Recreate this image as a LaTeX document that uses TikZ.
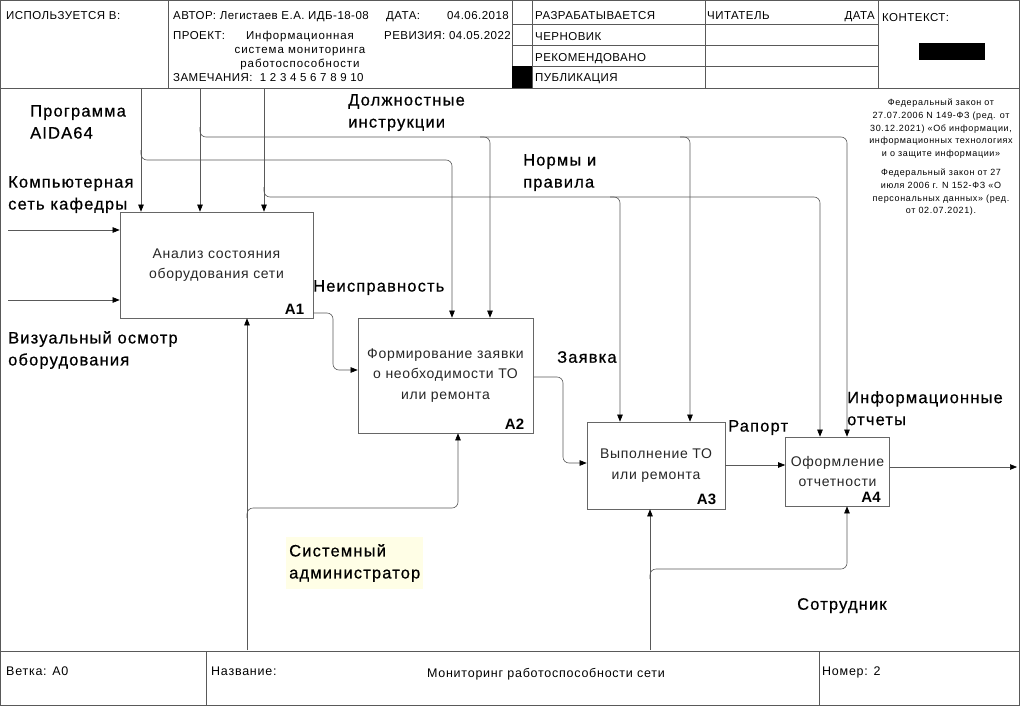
\documentclass[tikz,border=0pt]{standalone}
\usepackage{fontspec}
\setmainfont{Liberation Sans}
\newfontfamily\boxfont[LetterSpace=5]{Liberation Sans}
\newfontfamily\lblfont[LetterSpace=7,FakeBold=0.6]{Liberation Sans}
\newfontfamily\notefont[LetterSpace=7]{Liberation Sans}
\newfontfamily\hdrfont[LetterSpace=4]{Liberation Sans}
\newfontfamily\projfont[LetterSpace=8]{Liberation Sans}
\newfontfamily\ftrfont[LetterSpace=6]{Liberation Sans}
\usetikzlibrary{arrows.meta,positioning}

\begin{document}
\begin{tikzpicture}[x=1pt,y=-1pt,
    frame/.style={draw=black!65, line width=0.8pt},
    box/.style={draw=black!60, line width=0.7pt, inner sep=0, align=center,
      text=black!85, font=\boxfont\fontsize{14}{20.5}\selectfont,
      execute at begin node=\rule{0pt}{16pt}},
    num/.style={font=\bfseries\fontsize{15}{15}\selectfont, inner sep=0,
      anchor=south east, xshift=-9pt, yshift=4pt},
    flow/.style={draw=black!65, line width=0.6pt, rounded corners=6pt,
      -{Triangle[length=7pt,width=5.5pt,color=black]}},
    lbl/.style={font=\lblfont\fontsize{16.5}{22}\selectfont, align=left,
      anchor=north west, inner sep=0},
    hdr/.style={font=\hdrfont\fontsize{11.5}{15}\selectfont, anchor=base west, inner sep=0},
    ftr/.style={font=\ftrfont\fontsize{12.5}{14}\selectfont, anchor=base west, inner sep=0}]

    \useasboundingbox (0,0) rectangle (1023,707);

    % frame
    \draw[frame] (0.5,0.5) rectangle (1019.5,705.5);
    \draw[frame] (0.5,88) -- (1019.5,88);
    \draw[frame] (0.5,651) -- (1019.5,651);
    \foreach \x in {168,512,532,705,878}
        \draw[frame] (\x,0.5) -- (\x,88);
    \foreach \y in {24,45,66}
        \draw[frame] (512,\y) -- (878,\y);
    \foreach \x in {206,819}
        \draw[frame] (\x,651) -- (\x,705.5);
    \fill (512,66) rectangle (532,88);
    \fill (919,43) rectangle (985,60);

    % header
    \node[hdr] (used) at (6,19) {ИСПОЛЬЗУЕТСЯ В:};
    \node[hdr] (author) at (173,19) {АВТОР: Легистаев Е.А. ИДБ-18-08};
    \node[hdr] (date) at (386,19) {ДАТА:};
    \node[hdr, anchor=base east] (dateval) at (509,19) {04.06.2018};
    \node[hdr] (project) at (173,39) {ПРОЕКТ:};
    \node[hdr] (revision) at (384,39) {РЕВИЗИЯ: 04.05.2022};
    \node[font=\projfont\fontsize{11.5}{14}\selectfont, align=center,
      anchor=north, inner sep=0] (projname) at (300,31)
      {Информационная\\система мониторинга\\работоспособности};
    \node[hdr] (notes) at (173,81) {ЗАМЕЧАНИЯ:\ \ 1 2 3 4 5 6 7 8 9 10};
    \node[hdr] (working) at (535,19) {РАЗРАБАТЫВАЕТСЯ};
    \node[hdr] (draft) at (535,40) {ЧЕРНОВИК};
    \node[hdr] (recommended) at (535,61) {РЕКОМЕНДОВАНО};
    \node[hdr] (publication) at (535,81) {ПУБЛИКАЦИЯ};
    \node[hdr] (reader) at (707,19) {ЧИТАТЕЛЬ};
    \node[hdr, anchor=base east] (readerdate) at (875,19) {ДАТА};
    \node[hdr] (context) at (882,21) {КОНТЕКСТ:};

    % footer
    \node[ftr] (branch) at (6,675) {Ветка: A0};
    \node[ftr] (title) at (211,675) {Название:};
    \node[ftr, anchor=base] (titleval) at (546,677) {Мониторинг работоспособности сети};
    \node[ftr] (number) at (822,675) {Номер: 2};

    % law note
    \node[font=\notefont\fontsize{9}{12.7}\selectfont, align=center,
      anchor=north, inner sep=0] (law) at (941,99)
      {Федеральный закон от\\27.07.2006 N 149-ФЗ (ред. от\\30.12.2021) «Об информации,\\
       информационных технологиях\\и о защите информации»\\[6.3pt]
       Федеральный закон от 27\\июля 2006 г. N 152-ФЗ «О\\персональных данных» (ред.\\
       от 02.07.2021).};

    % activities
    \node[box, minimum width=193, minimum height=106,
      label={[num]south east:A1}] (a1) at (216.5,265)
      {Анализ состояния\\оборудования сети};
    \node[box, minimum width=175, minimum height=115,
      label={[num]south east:A2}] (a2) at (445.5,375.5)
      {Формирование заявки\\о необходимости ТО\\или ремонта};
    \node[box, minimum width=138, minimum height=87,
      label={[num]south east:A3}] (a3) at (656,465.5)
      {Выполнение ТО\\или ремонта};
    \node[box, minimum width=104, minimum height=69,
      label={[num]south east:A4}] (a4) at (837.5,471.5)
      {Оформление\\отчетности};

    % free ends
    \coordinate (aida) at (141,89);
    \coordinate (instr) at (200,89);
    \coordinate (norms) at (264,89);
    \coordinate (net) at (8,230);
    \coordinate (visual) at (8,300);
    \coordinate (admin) at (247,650);
    \coordinate (staff) at (650,650);
    \coordinate (reports) at (1017,467);

    % controls
    \draw[flow] (aida) -- (aida |- a1.north);
    \draw[flow] (instr) -- (instr |- a1.north);
    \draw[flow] (norms) -- (norms |- a1.north);
    \draw[flow] (141,150) |- (452,160) -- (452,0 |- a2.north);
    \draw[flow] (200,127) |- (490,137) -- (490,0 |- a2.north);
    \draw[flow] (480,137) -- (690,137) -- (690,0 |- a3.north);
    \draw[flow] (680,137) -- (847,137) -- (847,0 |- a4.north);
    \draw[flow] (264,187) |- (620,197) -- (620,0 |- a3.north);
    \draw[flow] (610,197) -- (820,197) -- (820,0 |- a4.north);

    % inputs and outputs
    \draw[flow] (net) -- (net -| a1.west);
    \draw[flow] (visual) -- (visual -| a1.west);
    \draw[flow] (a1.east |- 0,313) -- (333,313) -- (333,370) -- (a2.west |- 0,370);
    \draw[flow] (a2.east |- 0,377) -- (563,377) -- (563,463) -- (a3.west |- 0,463);
    \draw[flow] (a3.east |- 0,465) -- (a4.west |- 0,465);
    \draw[flow] (a4.east |- reports) -- (reports);

    % mechanisms
    \draw[flow] (admin) -- (admin |- a1.south);
    \draw[flow] (247,518) |- (458,508) -- (458,0 |- a2.south);
    \draw[flow] (staff) -- (staff |- a3.south);
    \draw[flow] (650,579) |- (847,569) -- (847,0 |- a4.south);

    % arrow labels
    \node[lbl] (laida) at (30,105) {Программа\\AIDA64};
    \node[lbl] (lnet) at (8,176) {Компьютерная\\сеть кафедры};
    \node[lbl] (lvisual) at (8,331) {Визуальный осмотр\\оборудования};
    \node[lbl] (linstr) at (348,94) {Должностные\\инструкции};
    \node[lbl] (lnorms) at (523,154) {Нормы и\\правила};
    \node[lbl] (lfault) at (313,280) {Неисправность};
    \node[lbl] (lrequest) at (557,351) {Заявка};
    \node[lbl] (lreport) at (728,420) {Рапорт};
    \node[lbl] (lreports) at (847,391) {Информационные\\отчеты};
    \node[lbl, fill=yellow!10, inner xsep=3pt, inner ysep=7pt] (ladmin) at (286,537)
      {Системный\\администратор};
    \node[lbl] (lstaff) at (797,598) {Сотрудник};
\end{tikzpicture}
\end{document}
